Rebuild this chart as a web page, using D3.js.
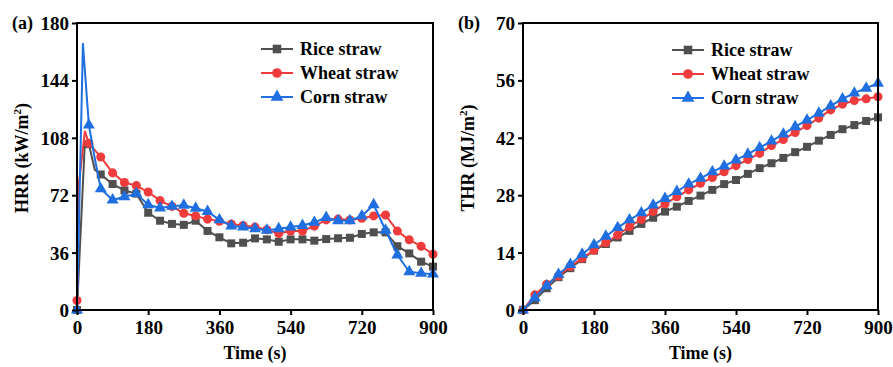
<!DOCTYPE html>
<html>
<head>
<meta charset="utf-8">
<script src="https://cdn.jsdelivr.net/npm/d3@7"></script>
<style>
body{margin:0;background:#fff;}
text{font-family:"Liberation Serif","Times New Roman",serif;font-weight:bold;fill:#000;}
</style>
</head>
<body>
<svg id="svg" width="893" height="367"></svg>
<script>
const seriesNames=["Rice straw","Wheat straw","Corn straw"];
const seriesColors=["#4f4f4f","#ef3b3b","#1f6fe0"];
const xTicks=[0,180,360,540,720,900];
const hrrTicks=[0,36,72,108,144,180];
const thrTicks=[0,14,28,42,56,70];

// HRR (kW/m2), time in s
const riceHrrT=[0,20,30,45,60,90,120,150,180,210,240,270,300,330,360,390,420,450,480,510,540,570,600,630,660,690,720,750,780,810,840,870,900];
const riceHrr=[0,106,104,88,85,79,75,73,61,56,54,53.4,56,49.6,45.6,41.8,42.2,44.9,44.3,42.8,44.3,44.3,43.5,44.5,45,45.3,47.7,48.7,48.7,40,35.5,30.3,27.2];
const wheatHrrT=[0,5,20,30,60,90,120,150,180,210,240,270,300,330,360,390,420,450,480,510,540,570,600,630,660,690,720,750,780,810,840,870,900];
const wheatHrr=[6,80,112,104.5,96,86,80,78,74,68.6,65,60.7,59,57,55.6,54,53,52,50.3,48,49.5,49.5,52.6,56.5,57,56.5,57.5,59,59.6,49.5,44,40,35];
const cornHrrT=[0,15,30,45,60,90,120,150,180,210,240,270,300,330,360,390,420,450,480,510,540,570,600,630,660,690,720,750,780,810,840,870,900];
const cornHrr=[0,167,116,95,76,69,71,73,66,64,65,65.7,63.8,61.8,56.5,52.7,52,51,50,51,52,53,55,58,56,56,59,66,50,34.5,24,23,22.5];

// THR (MJ/m2), every 30 s
const thrT=[0,30,60,90,120,150,180,210,240,270,300,330,360,390,420,450,480,510,540,570,600,630,660,690,720,750,780,810,840,870,900];
const riceThr=[0,2.4,5.3,8.0,10.2,12.4,14.5,16.1,17.7,19.3,21,22.5,24,25.2,26.6,27.9,29.3,30.7,31.7,33.2,34.6,35.8,37.1,38.5,39.8,41.3,42.7,44.1,45.1,46.1,47];
const wheatThr=[0,3.7,6.3,8.3,10.6,12.6,14.6,16.4,18.3,20.3,22.1,24,25.9,27.6,29.3,30.9,32.3,33.7,35.2,36.7,38.2,40.1,41.6,43.3,45,46.8,48.8,50.2,51.1,51.5,52];
const cornThr=[0,3.0,5.9,8.7,11.1,13.6,15.9,18.0,20.1,22.0,23.7,25.6,27.2,28.9,30.7,32.1,33.7,35.1,36.6,38.0,39.6,41.2,42.9,44.7,46.3,48.0,49.8,51.5,52.9,54.1,55.3];

const symbols=[d3.symbolSquare,d3.symbolCircle,d3.symbolTriangle];
const symbolSizes=[64,64,62];
const svg=d3.select("#svg");

function zip(t,v){return t.map((d,i)=>({t:d,v:v[i]}))}

function drawPanel(p){
    const g=svg.append("g");
    const x=d3.scaleLinear().domain([0,900]).range([p.left,p.right]);
    const y=d3.scaleLinear().domain([0,p.yMax]).range([310,23]);

    const line=d3.line().x(d=>x(d.t)).y(d=>y(d.v));
    p.series.forEach((s,i)=>{
        const data=zip(s.t,s.v);
        g.append("path").datum(data)
            .attr("d",line)
            .attr("fill","none")
            .attr("stroke",seriesColors[i])
            .attr("stroke-width",2)
            .attr("stroke-linejoin","round");
        g.selectAll(".m"+i).data(data.filter(d=>d.t%30===0)).enter().append("path")
            .attr("class","m"+i)
            .attr("d",d3.symbol().type(symbols[i]).size(symbolSizes[i]))
            .attr("transform",d=>"translate("+x(d.t)+","+y(d.v)+")")
            .attr("fill",seriesColors[i]);
    })

    //axes
    const xAxis=g.append("g").attr("transform","translate(0,310)")
        .call(d3.axisBottom(x).tickValues(xTicks).tickSize(5).tickSizeOuter(0).tickPadding(3));
    const yAxis=g.append("g").attr("transform","translate("+p.left+",0)")
        .call(d3.axisLeft(y).tickValues(p.yTicks).tickSize(5).tickSizeOuter(0).tickPadding(3));
    [xAxis,yAxis].forEach(a=>{
        a.selectAll("text").style("font-size","19px").style("font-family","Liberation Serif").style("font-weight","bold");
        a.selectAll("line").attr("stroke-width",2);
        a.select(".domain").remove();
    })
    xAxis.selectAll("text").attr("dy","0.82em");
    yAxis.selectAll("text").attr("dy","0.34em");

    //frame
    g.append("rect").attr("x",p.left).attr("y",23).attr("width",p.right-p.left).attr("height",287)
        .attr("fill","none").attr("stroke","#000").attr("stroke-width",2);

    //titles
    g.append("text").attr("x",(p.left+p.right)/2).attr("y",359).attr("text-anchor","middle")
        .style("font-size","18px").text("Time (s)");
    const yl=g.append("text").attr("transform","translate("+(p.left-49)+",158) rotate(-90)")
        .attr("text-anchor","middle").style("font-size","18px");
    yl.append("tspan").text(p.yLabel+" ("+p.unit);
    yl.append("tspan").attr("dy","-7").style("font-size","11px").text("2");
    yl.append("tspan").attr("dy","7").text(")");
    g.append("text").attr("x",p.left-65).attr("y",29).style("font-size","18px").text(p.tag);

    //legend
    const lg=g.append("g").attr("transform","translate("+p.legX+",0)");
    seriesNames.forEach((n,i)=>{
        const yy=p.legY+i*24;
        lg.append("line").attr("x1",0).attr("x2",32).attr("y1",yy).attr("y2",yy)
            .attr("stroke",seriesColors[i]).attr("stroke-width",2);
        lg.append("path").attr("d",d3.symbol().type(symbols[i]).size(symbolSizes[i]+10)())
            .attr("transform","translate(16,"+yy+")").attr("fill",seriesColors[i]);
        lg.append("text").attr("x",39).attr("y",yy).attr("dy","0.33em").style("font-size","18px").text(n);
    })
}

drawPanel({left:77,right:433,yMax:180,yTicks:hrrTicks,yLabel:"HRR",unit:"kW/m",tag:"(a)",legX:261,legY:49,
    series:[{t:riceHrrT,v:riceHrr},{t:wheatHrrT,v:wheatHrr},{t:cornHrrT,v:cornHrr}]});
drawPanel({left:523,right:878,yMax:70,yTicks:thrTicks,yLabel:"THR",unit:"MJ/m",tag:"(b)",legX:672,legY:50,
    series:[{t:thrT,v:riceThr},{t:thrT,v:wheatThr},{t:thrT,v:cornThr}]});
</script>
</body>
</html>
